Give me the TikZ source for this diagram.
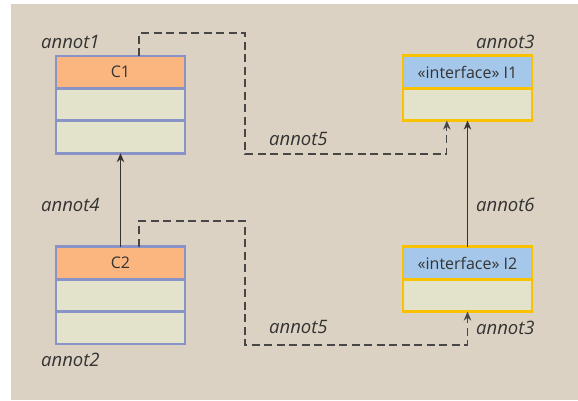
\documentclass[tikz,border=0pt]{standalone}
\usepackage{fontspec}
\setmainfont{Open Sans}
\usepackage{tikz}
\usetikzlibrary{
    calc,
    arrows.meta
}
\definecolor{bgtan}{HTML}{DCD2C3}
\definecolor{clshead}{HTML}{FBB680}
\definecolor{rowfill}{HTML}{E3E2CB}
\definecolor{clsedge}{HTML}{8A93C8}
\definecolor{ifchead}{HTML}{A5C8EA}
\definecolor{ifcedge}{HTML}{F8C200}
\definecolor{ink}{HTML}{333333}
\tikzset{
    part/.style={minimum width=129pt, minimum height=32.4pt, inner sep=0pt, outer sep=0pt,
        text=ink, font=\fontsize{16}{19}\selectfont},
    cls/.style={part, draw=clsedge, line width=2.8pt},
    ifc/.style={part, draw=ifcedge, line width=2.8pt},
    annot/.style={inner sep=0pt, text=ink, font=\fontsize{18.5}{20}\selectfont\itshape},
    gen/.style={draw=ink, line width=1pt, -{Stealth[length=9pt,width=7.5pt]}},
    dep/.style={draw=ink!90, line width=1.2pt, dash pattern=on 8pt off 4.5pt,
        -{Stealth[length=9pt,width=7.5pt]}}
}

\begin{document}
\begin{tikzpicture}[x=1pt,y=-1pt]
        \useasboundingbox (0,0) rectangle (578,400);
        \fill[bgtan] (11,4) rectangle (578,400);

        \begin{scope}[shift={(0,0)}]
            % classes
            \draw (120.5, 72.2) node[cls, fill=clshead](c1){C1};
            \draw (120.5,104.6) node[cls, fill=rowfill](c1a){};
            \draw (120.5,137.0) node[cls, fill=rowfill](c1b){};

            \draw (120.5,263.0) node[cls, fill=clshead](c2){C2};
            \draw (120.5,295.4) node[cls, fill=rowfill](c2a){};
            \draw (120.5,327.8) node[cls, fill=rowfill](c2b){};

            % interfaces
            \draw (467.5, 72.0) node[ifc, fill=ifchead](i1){«interface» I1};
            \draw (467.5,104.4) node[ifc, fill=rowfill](i1a){};

            \draw (467.5,263.0) node[ifc, fill=ifchead](i2){«interface» I2};
            \draw (467.5,295.4) node[ifc, fill=rowfill](i2a){};

            % bends of the dashed lines
            \coordinate (k1) at (245, 33);
            \coordinate (k2) at (446.8,154);
            \coordinate (k3) at (245,221);
            \coordinate (k4) at (467.5,345);

            \draw[gen] (c2.north) to (c1b.south);
            \draw[gen] (i2.north) to (i1a.south);
            \draw[dep] ([xshift=18.5pt]c1.north) |- (k1) |- (k2) -- (k2 |- i1a.south);
            \draw[dep] ([xshift=18.5pt]c2.north) |- (k3) |- (k4) -- (i2a.south);

            % annotations
            \draw ( 41, 48) node[annot, anchor=base west](a1){annot1};
            \draw ( 41,366.5) node[annot, anchor=base west](a2){annot2};
            \draw (476, 48) node[annot, anchor=base west](a3){annot3};
            \draw (476,334.5) node[annot, anchor=base west](a3b){annot3};
            \draw ( 41,211.5) node[annot, anchor=base west](a4){annot4};
            \draw (269,145) node[annot, anchor=base west](a5){annot5};
            \draw (269,333) node[annot, anchor=base west](a5b){annot5};
            \draw (476,211.5) node[annot, anchor=base west](a6){annot6};
        \end{scope}
    \end{tikzpicture}
\end{document}
